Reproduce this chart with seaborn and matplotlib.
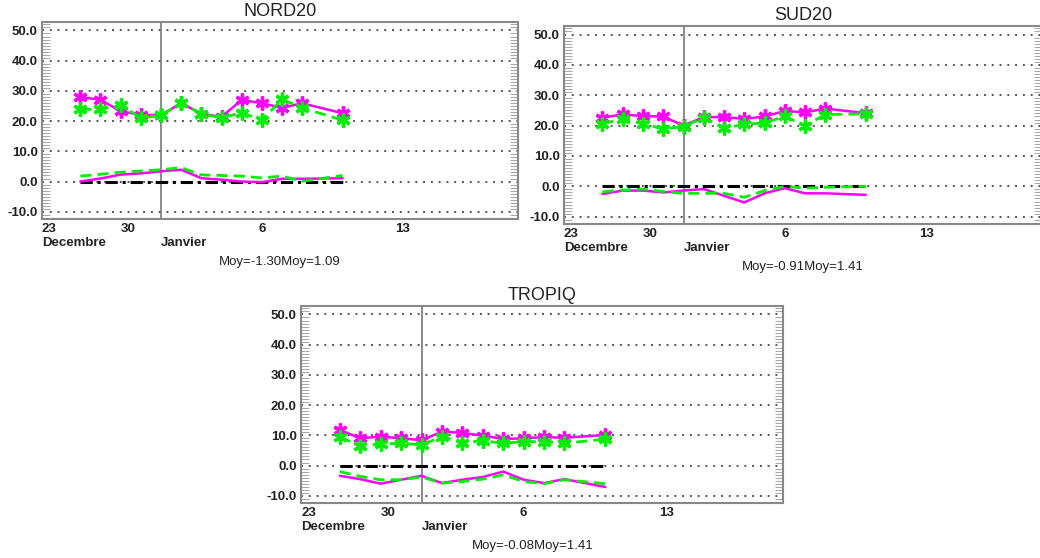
import numpy as np
import pandas as pd
import matplotlib
matplotlib.use('Agg')
import matplotlib.pyplot as plt
from matplotlib.ticker import MultipleLocator
import seaborn as sns

# jours comptes depuis le 30 decembre (pas de donnee le 9 janvier)
days = [-2, -1, 0, 1, 2, 3, 4, 5, 6, 7, 8, 9, 11]

titles = ['NORD20', 'SUD20', 'TROPIQ']
moy_labels = ['Moy=-1.30Moy=1.09', 'Moy=-0.91Moy=1.41', 'Moy=-0.08Moy=1.41']

tick_pos = [0, 2, 7, 14]
tick_labels = ['30', '\nJanvier', '6', '13']
first_label = '23\nDecembre'

# courbes du haut (avec symboles)
nord_mag_hi = [28.0, 27.0, 23.3, 22.0, 22.0, 25.9, 22.5, 21.4, 27.0, 25.9, 24.4, 25.9, 22.6]
nord_grn_hi = [23.9, 23.9, 25.2, 21.1, 21.9, 25.9, 22.4, 21.1, 22.8, 20.3, 27.2, 24.4, 20.3]
sud_mag_hi = [22.6, 23.7, 23.1, 23.0, 20.0, 22.8, 22.8, 22.2, 23.0, 24.8, 24.4, 25.6, 24.1]
sud_grn_hi = [20.6, 22.2, 20.6, 18.9, 19.7, 22.6, 19.2, 20.4, 20.9, 23.0, 20.0, 23.6, 23.9]
trop_mag_hi = [11.8, 9.0, 9.6, 9.0, 8.4, 11.2, 10.8, 9.9, 8.8, 9.0, 9.4, 9.2, 10.1]
trop_grn_hi = [9.3, 6.6, 7.1, 7.4, 6.8, 9.6, 7.6, 8.2, 7.4, 7.9, 7.9, 7.4, 8.7]

# courbes du bas (sans symboles)
nord_mag_lo = [0.0, 1.0, 2.3, 2.7, 3.4, 3.9, 1.1, 0.6, 0.0, -0.2, 0.9, 0.9, 1.1]
nord_grn_lo = [1.8, 2.4, 3.1, 3.5, 3.9, 4.6, 2.2, 2.0, 1.8, 1.2, 1.8, 0.1, 2.0]
sud_mag_lo = [-2.5, -1.4, -1.4, -2.0, -1.4, -0.9, -3.1, -5.3, -2.3, -0.6, -2.3, -2.3, -2.8]
sud_grn_lo = [-1.8, -1.2, -0.9, -1.7, -2.3, -2.3, -2.3, -3.6, -1.4, 0.0, -0.6, -0.3, 0.0]
trop_mag_lo = [-3.4, -4.5, -6.0, -4.7, -3.4, -5.8, -4.7, -3.8, -2.0, -4.7, -5.8, -4.5, -7.1]
trop_grn_lo = [-2.0, -3.6, -4.7, -4.7, -3.8, -5.8, -5.3, -4.5, -3.1, -5.3, -6.0, -4.7, -6.0]

zero = np.zeros(len(days))

series = [
    (nord_mag_hi, nord_grn_hi, nord_mag_lo, nord_grn_lo),
    (sud_mag_hi, sud_grn_hi, sud_mag_lo, sud_grn_lo),
    (trop_mag_hi, trop_grn_hi, trop_mag_lo, trop_grn_lo),
]

sns.set_style('white')
plt.rcParams['font.family'] = ['Liberation Sans', 'DejaVu Sans']

W, H = 1040, 558
fig = plt.figure(figsize=(W / 100, H / 100), dpi=100)

# positions des cadres en pixels: gauche, haut, droite, bas
boxes = [(42, 22, 518, 219), (564, 26, 1042, 224), (301, 306, 783, 503)]
moy_x = [0.5, 0.5, 0.48]

MAG = '#ff00ff'
GRN = '#00ee00'
asterisk = (6, 2, 0)

for i, (l, t, r, b) in enumerate(boxes):
    ax = fig.add_axes([l / W, 1 - b / H, (r - l) / W, (b - t) / H])
    mag_hi, grn_hi, mag_lo, grn_lo = series[i]
    df = pd.DataFrame({'jour': days, 'mag_hi': mag_hi, 'grn_hi': grn_hi,
                       'mag_lo': mag_lo, 'grn_lo': grn_lo, 'zero': zero})

    sns.lineplot(data=df, x='jour', y='zero', ax=ax, color='black', lw=2.2,
                 linestyle=(0, (4, 1.6, 1, 1.6)), errorbar=None)
    sns.lineplot(data=df, x='jour', y='mag_lo', ax=ax, color=MAG, lw=1.8, errorbar=None)
    sns.lineplot(data=df, x='jour', y='grn_lo', ax=ax, color=GRN, lw=2.0,
                 linestyle=(0, (4, 2.2)), errorbar=None)
    sns.lineplot(data=df, x='jour', y='mag_hi', ax=ax, color=MAG, lw=1.8, errorbar=None,
                 marker=asterisk, markersize=10, mec=MAG, mew=2.4)
    sns.lineplot(data=df, x='jour', y='grn_hi', ax=ax, color=GRN, lw=2.0, errorbar=None,
                 linestyle=(0, (4, 2.2)), marker=asterisk, markersize=10, mec=GRN, mew=2.4)

    ax.axvline(2, color='#777777', lw=1.2, zorder=1)

    xmin, xmax = -3.9, 19.7
    ax.set_xlim(xmin, xmax)
    ax.set_ylim(-12.4, 52.8)
    ax.set_xlabel('')
    ax.set_ylabel('')

    ax.set_xticks([xmin] + tick_pos)
    labs = ax.set_xticklabels([first_label] + tick_labels, fontsize=9.5, fontweight='bold',
                              linespacing=1.15)
    for lab in labs[:3]:
        lab.set_ha('left')
    ax.tick_params(axis='x', direction='in', length=4, width=0.8, color='#777777',
                   pad=3, labelcolor='#222222')

    ax.set_yticks(np.arange(-10, 51, 10))
    ax.set_yticklabels([f'{v:.1f}' for v in np.arange(-10, 51, 10)], fontsize=9.5,
                       fontweight='bold', color='#222222')
    ax.yaxis.set_minor_locator(MultipleLocator(1))
    ax.tick_params(axis='y', which='major', length=0, pad=3)
    ax.tick_params(axis='y', which='minor', direction='in', length=6, width=0.6,
                   color='#999999', left=True, right=True)
    ax.yaxis.grid(True, linestyle=(0, (1, 3)), color='#555555', lw=1.4)
    ax.xaxis.grid(False)

    for sp in ax.spines.values():
        sp.set_color('#888888')
        sp.set_linewidth(1.5)

    ax.set_title(titles[i], fontsize=13, pad=4, color='#222222')
    ax.text(moy_x[i], -43 / (b - t), moy_labels[i], transform=ax.transAxes,
            ha='center', va='center', fontsize=9.5, color='#222222')

fig.savefig('out.png', dpi=100)
